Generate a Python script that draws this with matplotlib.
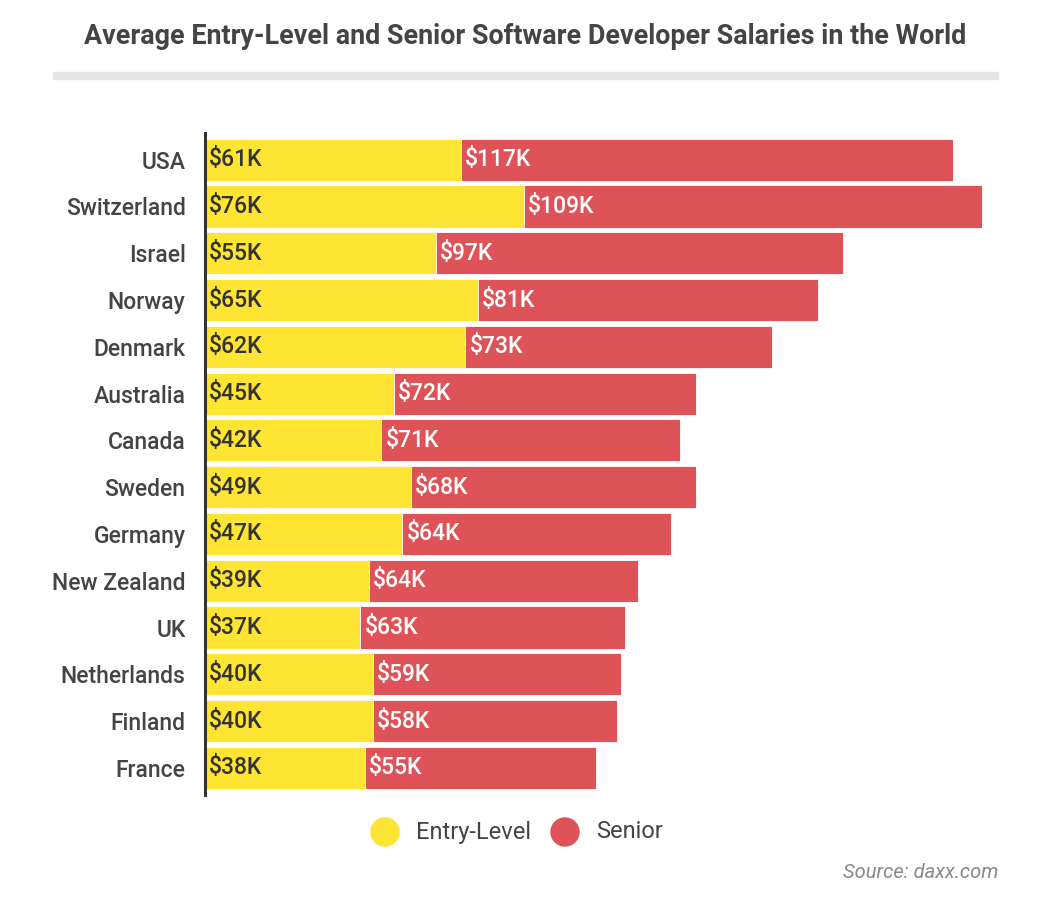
import numpy as np
import matplotlib
matplotlib.use("Agg")
import matplotlib.pyplot as plt
from matplotlib.transforms import offset_copy

countries = ["USA", "Switzerland", "Israel", "Norway", "Denmark", "Australia",
             "Canada", "Sweden", "Germany", "New Zealand", "UK", "Netherlands",
             "Finland", "France"]
entry = [61, 76, 55, 65, 62, 45, 42, 49, 47, 39, 37, 40, 40, 38]
senior = [117, 109, 97, 81, 73, 72, 71, 68, 64, 64, 63, 59, 58, 55]

YELLOW = "#FEE433"
RED = "#DD5357"
TXT = "#444444"

plt.rcParams["font.family"] = ["Roboto", "DejaVu Sans"]

fig = plt.figure(figsize=(10.5, 9), dpi=100, facecolor="white")
ax = fig.add_axes([205 / 1050, 1 - 795 / 900, 798 / 1050, 662 / 900])

y = np.arange(len(countries))
ax.barh(y, entry, height=0.9, color=YELLOW, edgecolor="white", linewidth=0.6)
ax.barh(y, senior, left=entry, height=0.9, color=RED, edgecolor="white", linewidth=0.6)

ax.set_xlim(0, 190)
ax.set_ylim(13.58, -0.57)

shift = offset_copy(ax.transData, fig=fig, x=4, y=0, units="dots")
for i in range(len(countries)):
    ax.text(0, i, f"${entry[i]}K", transform=shift, ha="left", va="center",
            fontsize=16.5, fontweight="medium", color="#333333")
    ax.text(entry[i], i, f"${senior[i]}K", transform=shift, ha="left", va="center",
            fontsize=16.5, fontweight="medium", color="white")

ax.set_yticks(y)
ax.set_yticklabels(countries, fontsize=16.5, color=TXT, fontweight="medium")
ax.tick_params(axis="y", length=0, pad=14)
ax.set_xticks([])
for s in ["top", "right", "bottom"]:
    ax.spines[s].set_visible(False)
ax.spines["left"].set_color("#333333")
ax.spines["left"].set_linewidth(2.2)

# title and separator
fig.text(0.5, 1 - 37 / 900, "Average Entry-Level and Senior Software Developer Salaries in the World",
         ha="center", va="center", fontsize=19.4, fontweight="bold", color=TXT)
fig.patches.append(plt.Rectangle((53 / 1050, 1 - 79 / 900), 945 / 1050, 7 / 900,
                                 transform=fig.transFigure, color="#E6E6E6"))

# legend
for cx, col, lab in [(385, YELLOW, "Entry-Level"), (565, RED, "Senior")]:
    fig.patches.append(matplotlib.patches.Ellipse((cx / 1050, 1 - 832 / 900), 28 / 1050, 28 / 900,
                                                  transform=fig.transFigure, color=col))
    fig.text((cx + 31) / 1050, 1 - 832 / 900, lab, ha="left", va="center",
             fontsize=17, color=TXT)

fig.text(998 / 1050, 1 - 872 / 900, "Source: daxx.com", ha="right", va="center",
         fontsize=14.5, style="italic", color="#888888")

fig.savefig("out.png", dpi=100, facecolor="white")
